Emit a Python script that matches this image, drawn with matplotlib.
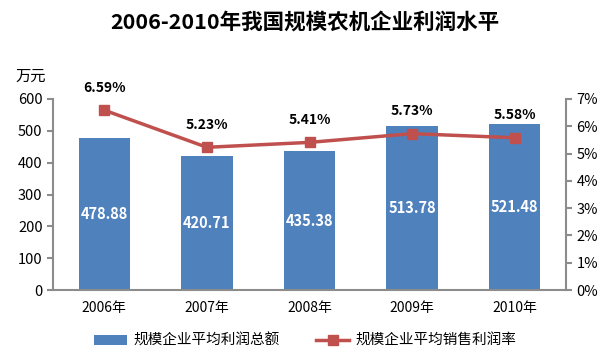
import matplotlib.pyplot as plt
from matplotlib.ticker import FuncFormatter

plt.rcParams['font.family'] = ['Noto Sans CJK SC', 'DejaVu Sans']

# 数据
anos = ['2006年', '2007年', '2008年', '2009年', '2010年']
lucro_total = [478.88, 420.71, 435.38, 513.78, 521.48]
taxa_lucro = [6.59, 5.23, 5.41, 5.73, 5.58]

cor_barra = '#4F81BD'
cor_linha = '#C0504D'
cinza = '#8C8C8C'

fig = plt.figure(figsize=(6.1, 3.54), dpi=100)
ax = fig.add_axes([53 / 610, 1 - 290 / 354, 513 / 610, 191 / 354])
x = range(len(anos))

barras = ax.bar(x, lucro_total, width=0.5, color=cor_barra, zorder=2, label='规模企业平均利润总额')
for i, v in enumerate(lucro_total):
    ax.text(i, v / 2, f'{v:.2f}', ha='center', va='center', color='white',
            fontsize=10.5, fontweight='bold')

ax.set_xlim(-0.5, len(anos) - 0.5)
ax.set_ylim(0, 600)
ax.set_yticks(range(0, 601, 100))
ax.set_xticks(list(x))
ax.set_xticklabels(anos)
ax.tick_params(axis='y', labelsize=10.5, color=cinza, length=4, width=1.5)
ax.tick_params(axis='x', labelsize=10, length=0, pad=8)
for s in ['left', 'bottom']:
    ax.spines[s].set_color(cinza)
    ax.spines[s].set_linewidth(1.5)
ax.spines['top'].set_visible(False)
ax.spines['right'].set_visible(False)

ax2 = ax.twinx()
linha, = ax2.plot(list(x), taxa_lucro, color=cor_linha, lw=2.5, marker='s', markersize=7.5,
                  zorder=3, label='规模企业平均销售利润率')
for i, v in enumerate(taxa_lucro):
    ax2.annotate(f'{v:.2f}%', (i, v), xytext=(0, 11), textcoords='offset points',
                 ha='center', va='bottom', fontsize=10, fontweight='bold')
ax2.set_ylim(0, 7)
ax2.set_yticks(range(0, 8))
ax2.yaxis.set_major_formatter(FuncFormatter(lambda v, p: f'{int(v)}%'))
ax2.tick_params(axis='y', labelsize=10.5, color=cinza, length=4, width=1.5)
ax2.spines['right'].set_color(cinza)
ax2.spines['right'].set_linewidth(1.5)
for s in ['top', 'left', 'bottom']:
    ax2.spines[s].set_visible(False)

fig.text(15 / 610, 1 - 76 / 354, '万元', fontsize=11, va='center')
fig.suptitle('2006-2010年我国规模农机企业利润水平', y=1 - 22 / 354, va='center',
             fontsize=15.5, fontweight='heavy')

fig.legend(handles=[barras, linha], loc='center', bbox_to_anchor=(0.5, 1 - 341 / 354),
           ncol=2, frameon=False, fontsize=10.5, columnspacing=2.5, handlelength=2.3,
           handletextpad=0.4)

fig.savefig('out.png', dpi=100)
